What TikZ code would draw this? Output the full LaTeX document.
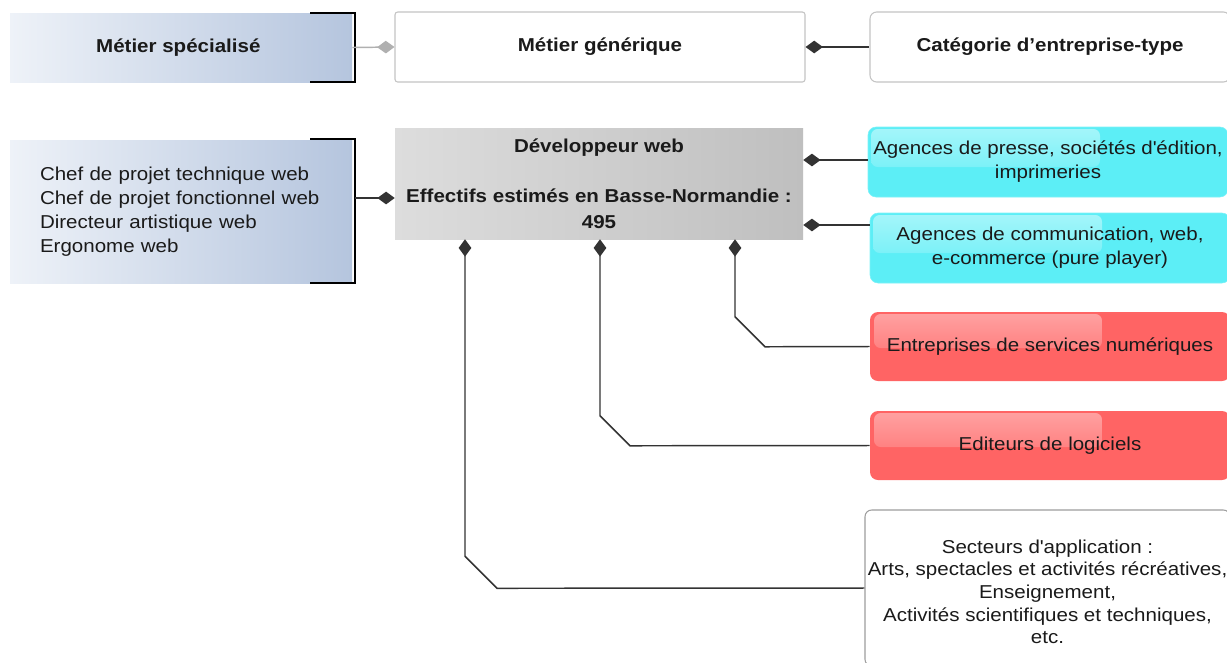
\documentclass[tikz,border=0pt]{standalone}
\usepackage{fontspec}
\setmainfont{Liberation Sans}[FakeStretch=1.1]
\usetikzlibrary{arrows.meta,calc}
\definecolor{blueL}{HTML}{EEF2F8}
\definecolor{blueR}{HTML}{B5C5DE}
\definecolor{cyanc}{HTML}{5CEEF6}
\definecolor{redc}{HTML}{FF6464}
\definecolor{bordc}{HTML}{C4C4C4}
\definecolor{linec}{HTML}{333333}
\definecolor{txtc}{HTML}{1A1A1A}
\definecolor{grayL}{HTML}{DDDDDD}
\definecolor{grayR}{HTML}{BFBFBF}
\tikzset{
  txt/.style={font=\fontsize{14}{18}\selectfont, text=txtc, align=center, inner sep=0pt},
  bluebox/.style={txt, left color=blueL, right color=blueR, draw=none, minimum width=256.5pt},
  whitebox/.style={txt, fill=white, draw=bordc, line width=0.8pt, minimum width=270pt, minimum height=52.5pt},
  cyanbox/.style={txt, fill=cyanc, draw=cyanc!80!white, rounded corners=6pt, minimum width=270pt, minimum height=52.5pt,
    path picture={\shade[top color=white!45!cyanc, bottom color=cyanc, rounded corners=5pt]
      ($(path picture bounding box.north west)+(3,2)$) rectangle ($(path picture bounding box.north west)+(232,40)$);}},
  redbox/.style={txt, fill=redc, draw=none, rounded corners=6pt, minimum width=270pt, minimum height=51.75pt,
    path picture={\shade[top color=white!40!redc, bottom color=redc, rounded corners=5pt]
      ($(path picture bounding box.north west)+(4,2)$) rectangle ($(path picture bounding box.north west)+(232,36)$);}},
  bracket/.style={line width=2.2pt, black},
  conn/.style={draw=linec, line width=1.1pt, {Turned Square[length=13pt,width=9.5pt]}-},
  gconn/.style={draw=bordc!90!black, line width=1.1pt, {Turned Square[length=13pt,width=9.5pt]}-},
}
\begin{document}
\begin{tikzpicture}[x=0.75pt,y=-0.75pt]
\useasboundingbox (0,0) rectangle (1227,662);
\fill[white] (0,0) rectangle (1227,662);

% top row
\node[bluebox, minimum height=51.75pt, font=\fontsize{14}{18}\selectfont\bfseries] (spec) at (181,47.5) {Métier spécialisé\hspace{4pt}};
\node[whitebox, rounded corners=2pt, minimum width=307.5pt, font=\fontsize{14}{18}\selectfont\bfseries] (gen) at (600,47) {Métier générique};
\node[whitebox, rounded corners=5pt, font=\fontsize{14}{18}\selectfont\bfseries] (cat) at (1050,47) {Catégorie d’entreprise-type};

% second row
\node[bluebox, minimum height=107.25pt, text width=211.5pt, inner xsep=22.5pt, align=left] (specs) at (181,211.5)
  {\mbox{Chef de projet technique web}\\ \mbox{Chef de projet fonctionnel web}\\ \mbox{Directeur artistique web}\\ \mbox{Ergonome web}};
\node[txt, left color=grayL, right color=grayR, minimum width=306pt, minimum height=83.25pt,
      font=\fontsize{14}{19}\selectfont\bfseries] (dev) at (599,183.5)
  {Développeur web\\[19pt] Effectifs estimés en Basse-Normandie :\\ 495};

\node[cyanbox] (press) at (1048,162) {Agences de presse, sociétés d\textquotesingle édition,\\ imprimeries};
\node[cyanbox] (comm) at (1050,248) {Agences de communication, web,\\ e-commerce (pure player)};
\node[redbox] (esn) at (1050,346.5) {Entreprises de services numériques};
\node[redbox] (edit) at (1050,445.5) {Editeurs de logiciels};
\node[txt, fill=white, draw=bordc!80!black, line width=0.8pt, rounded corners=5pt, minimum width=273.75pt, minimum height=117pt,
      font=\fontsize{14}{17}\selectfont] (sect) at (1047.5,588)
  {\rule{0pt}{16pt}Secteurs d\textquotesingle application :\\ Arts, spectacles et activités récréatives,\\ Enseignement,\\ Activités scientifiques et techniques,\\ etc.};

% brackets
\draw[bracket] (310,13) -| (355,82) -- (310,82);
\draw[bracket] (310,139) -| (355,283) -- (310,283);

% connectors
\draw[gconn] (gen.west) -- (spec.east);
\draw[conn] (gen.east) -- (cat.west);
\draw[conn] (dev.west |- 0,198) -- ($(specs.east)+(3,-13.5)$);
\draw[conn] (dev.east |- 0,160) -- ($(press.west)+(0,-2)$);
\draw[conn] (dev.east |- 0,225) -- ($(comm.west)+(0,-23)$);
\draw[conn] ($(dev.south)+(136,0)$) -- ++(0,77.5) -- ++(30,30) -- (esn.west);
\draw[conn] ($(dev.south)+(1,0)$) -- ++(0,176.5) -- ++(30,30) -- (edit.west);
\draw[conn] ($(dev.south)+(-134,0)$) -- ++(0,317) -- ++(32,32) -- (sect.west);
\end{tikzpicture}
\end{document}
